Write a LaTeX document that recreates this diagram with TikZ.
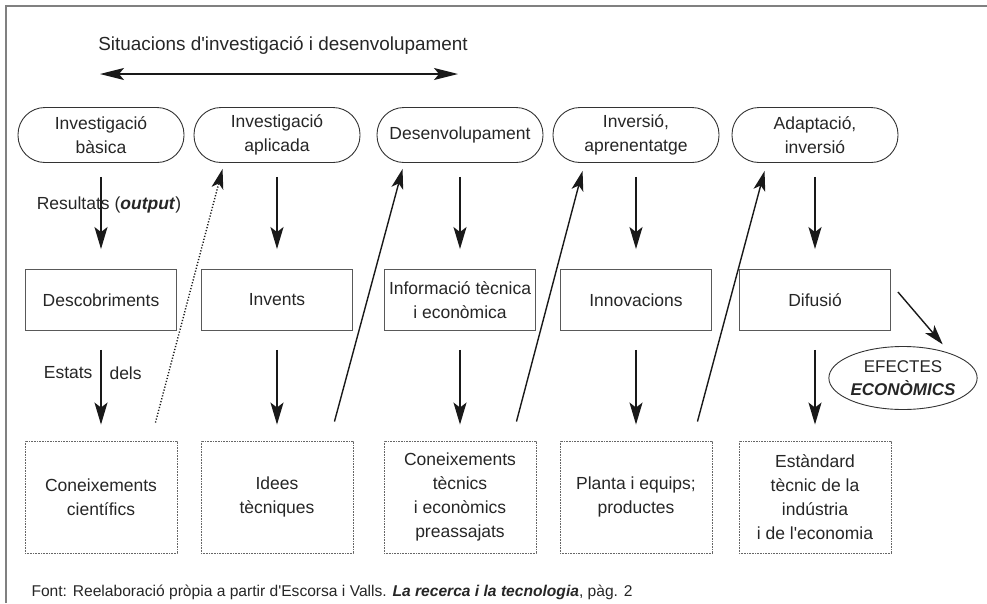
\documentclass[tikz,border=0pt]{standalone}
\usepackage{fontspec}
\setmainfont{Liberation Sans}
\usepackage{tikz}
\usetikzlibrary{arrows.meta, positioning, calc, shapes.geometric}

\begin{document}
\begin{tikzpicture}[x=1pt, y=-1pt,
    every node/.style={font=\fontsize{17.5}{24}\selectfont, text=black!85, align=center},
    stage/.style={draw=black!80, line width=0.9pt, rounded corners=27pt, minimum width=166pt, minimum height=55pt, inner sep=0pt},
    result/.style={draw=black!65, line width=0.9pt, minimum width=151pt, minimum height=61pt, inner sep=0pt},
    stock/.style={draw=black!60, line width=0.9pt, dash pattern=on 0.8pt off 0.8pt, minimum width=152pt, minimum height=112pt, inner sep=0pt},
    down/.style={-{Stealth[length=22pt, width=13pt, inset=5pt]}, line width=1.6pt, black!90},
    up/.style={-{Stealth[length=20pt, width=12pt, inset=5pt]}, line width=1.4pt, black!90}
]
    \useasboundingbox (0,0) rectangle (987,603);
    \draw[gray, line width=2pt] (6,603) -- (6,6) -- (987,6);

    % titol i fletxa doble
    \node[font=\fontsize{18.9}{24}\selectfont] (title) at (283,45) {Situacions d\textquotesingle investigació i desenvolupament};
    \coordinate (rdL) at (100,74);
    \coordinate (rdR) at (458,74);
    \draw[{Stealth[length=24pt, width=12pt, inset=5pt]}-{Stealth[length=24pt, width=12pt, inset=5pt]}, line width=1.4pt, black!90] (rdL) -- (rdR);

    % situacions
    \node[stage] (s1) at (101,135) {Investigació\\bàsica};
    \node[stage] (s2) at (277,135) {Investigació\\aplicada};
    \node[stage] (s3) at (460,135) {Desenvolupament};
    \node[stage] (s4) at (636,135) {Inversió,\\aprenentatge};
    \node[stage] (s5) at (815,135) {Adaptació,\\inversió};

    % resultats
    \node[result] (r1) at (101,300) {Descobriments};
    \node[result] (r2) at (277,300) {Invents};
    \node[result] (r3) at (460,300) {Informació tècnica\\i econòmica};
    \node[result] (r4) at (636,300) {Innovacions};
    \node[result] (r5) at (815,300) {Difusió};

    % estats
    \node[stock] (k1) at (101,497) {Coneixements\\científics};
    \node[stock] (k2) at (277,497) {Idees\\tècniques};
    \node[stock] (k3) at (460,497) {Coneixements\\tècnics\\i econòmics\\preassajats};
    \node[stock] (k4) at (636,497) {Planta i equips;\\productes};
    \node[stock] (k5) at (815,497) {Estàndard\\tècnic de la\\indústria\\i de l\textquotesingle economia};

    \node[ellipse, draw=black!80, line width=0.9pt, minimum width=146pt, minimum height=63pt, inner sep=0pt, font=\fontsize{17}{23}\selectfont] (eff) at (903,378) {EFECTES\\\textbf{\textit{ECONÒMICS}}};

    % fletxes verticals
    \draw[down, shorten <=14pt, shorten >=20pt] (s1) -- (r1);
    \draw[down, shorten <=14pt, shorten >=20pt] (s2) -- (r2);
    \draw[down, shorten <=14pt, shorten >=20pt] (s3) -- (r3);
    \draw[down, shorten <=14pt, shorten >=20pt] (s4) -- (r4);
    \draw[down, shorten <=14pt, shorten >=20pt] (s5) -- (r5);
    \draw[down, shorten <=19pt, shorten >=16pt] (r1) -- (k1);
    \draw[down, shorten <=19pt, shorten >=16pt] (r2) -- (k2);
    \draw[down, shorten <=19pt, shorten >=16pt] (r3) -- (k3);
    \draw[down, shorten <=19pt, shorten >=16pt] (r4) -- (k4);
    \draw[down, shorten <=19pt, shorten >=16pt] (r5) -- (k5);

    \node (lres) at (109,205) {Resultats (\textbf{\textit{output}})};
    \node[anchor=east] (lest) at (96,373) {Estats};
    \node[anchor=west] (ldel) at (106,373) {dels};

    % fletxes diagonals
    \draw[up, dash pattern=on 1.2pt off 1.8pt] ([xshift=-22pt,yshift=18pt]k1.north east) -- ([xshift=29pt,yshift=-6pt]s2.south west);
    \draw[up] ([xshift=-19pt,yshift=19pt]k2.north east) -- ([xshift=26pt,yshift=-6pt]s3.south west);
    \draw[up] ([xshift=-20pt,yshift=19pt]k3.north east) -- ([xshift=30pt,yshift=-8pt]s4.south west);
    \draw[up] ([xshift=-15pt,yshift=19pt]k4.north east) -- ([xshift=33pt,yshift=-8pt]s5.south west);
    \draw[up] ([xshift=7pt,yshift=8pt]r5.east) -- ([xshift=-13pt,yshift=11pt]eff.north east);

    \node[anchor=west, font=\fontsize{15.6}{18}\selectfont] (src) at (28,592) {Font: Reelaboració pròpia a partir d\textquotesingle Escorsa i Valls. \textbf{\textit{La recerca i la tecnologia}}, pàg. 2};
\end{tikzpicture}
\end{document}
